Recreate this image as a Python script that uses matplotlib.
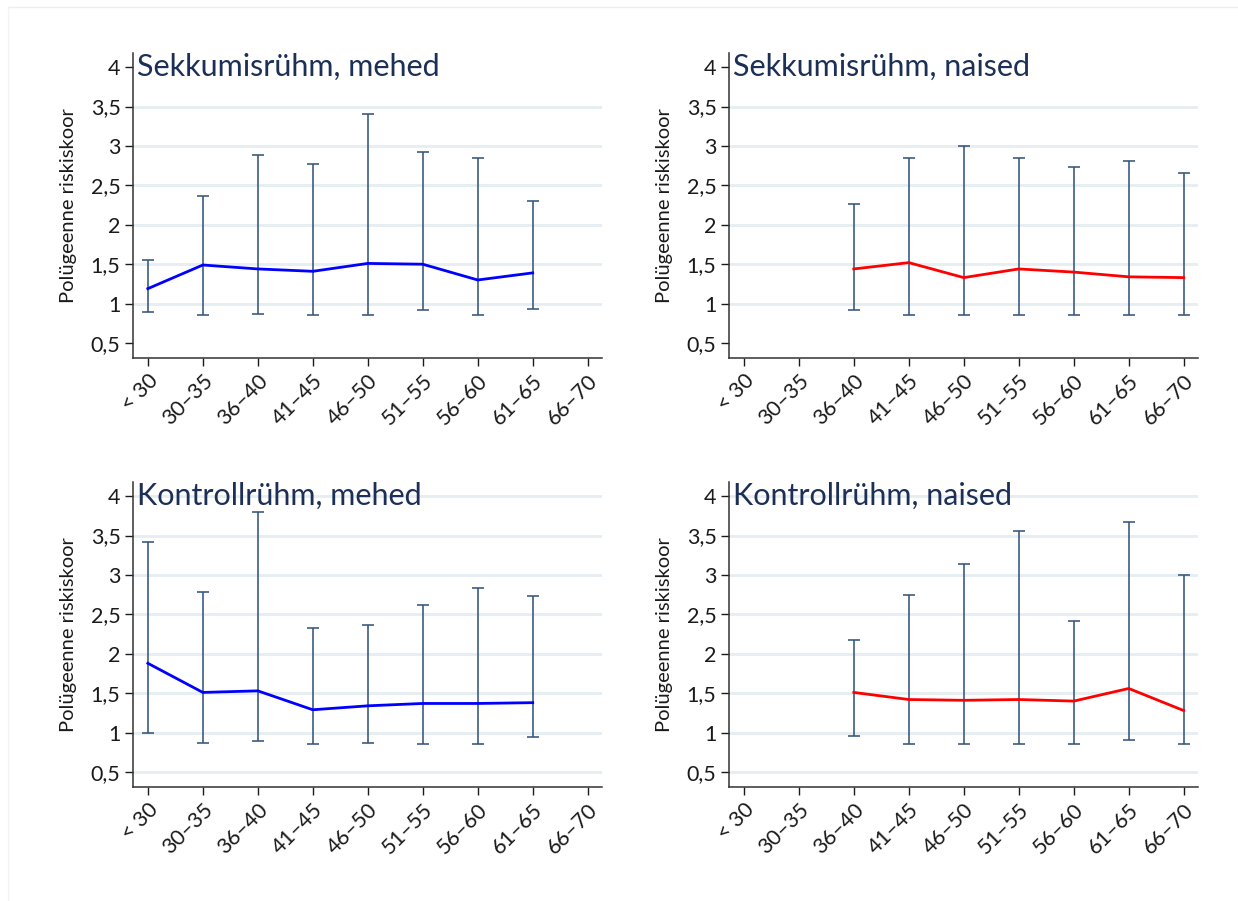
import matplotlib
matplotlib.use("Agg")
import matplotlib.pyplot as plt
from matplotlib.lines import Line2D
import numpy as np

plt.rcParams['font.family'] = ['Lato', 'DejaVu Sans']

age_groups = ["< 30", "30–35", "36–40", "41–45", "46–50", "51–55", "56–60", "61–65", "66–70"]
y_ticks = [0.5, 1, 1.5, 2, 2.5, 3, 3.5, 4]
y_tick_labels = ["0,5", "1", "1,5", "2", "2,5", "3", "3,5", "4"]

# Sekkumisrühm, mehed (age groups 0..7)
int_men_idx = [0, 1, 2, 3, 4, 5, 6, 7]
int_men_mean = [1.19, 1.49, 1.44, 1.41, 1.51, 1.50, 1.30, 1.39]
int_men_low = [0.89, 0.86, 0.87, 0.86, 0.86, 0.92, 0.85, 0.93]
int_men_high = [1.55, 2.36, 2.88, 2.77, 3.40, 2.93, 2.85, 2.30]

# Sekkumisrühm, naised (age groups 2..8)
int_women_idx = [2, 3, 4, 5, 6, 7, 8]
int_women_mean = [1.44, 1.52, 1.33, 1.44, 1.40, 1.34, 1.33]
int_women_low = [0.92, 0.86, 0.86, 0.86, 0.86, 0.86, 0.86]
int_women_high = [2.27, 2.85, 3.00, 2.85, 2.73, 2.81, 2.66]

# Kontrollrühm, mehed (age groups 0..7)
ctl_men_idx = [0, 1, 2, 3, 4, 5, 6, 7]
ctl_men_mean = [1.88, 1.51, 1.53, 1.29, 1.34, 1.37, 1.37, 1.38]
ctl_men_low = [0.99, 0.87, 0.90, 0.86, 0.87, 0.86, 0.86, 0.94]
ctl_men_high = [3.42, 2.78, 3.80, 2.33, 2.37, 2.62, 2.84, 2.73]

# Kontrollrühm, naised (age groups 2..8)
ctl_women_idx = [2, 3, 4, 5, 6, 7, 8]
ctl_women_mean = [1.51, 1.42, 1.41, 1.42, 1.40, 1.56, 1.28]
ctl_women_low = [0.96, 0.85, 0.86, 0.85, 0.85, 0.91, 0.86]
ctl_women_high = [2.17, 2.75, 3.14, 3.56, 2.42, 3.67, 3.00]

panels = [
    ("Sekkumisrühm, mehed", int_men_idx, int_men_mean, int_men_low, int_men_high, "#0000ff", False),
    ("Sekkumisrühm, naised", int_women_idx, int_women_mean, int_women_low, int_women_high, "#ff0000", False),
    ("Kontrollrühm, mehed", ctl_men_idx, ctl_men_mean, ctl_men_low, ctl_men_high, "#0000ff", True),
    ("Kontrollrühm, naised", ctl_women_idx, ctl_women_mean, ctl_women_low, ctl_women_high, "#ff0000", True),
]

W, H = 1238, 901
fig = plt.figure(figsize=(W / 100, H / 100), dpi=100)
fig.patch.set_facecolor("white")

# faint frame along the top and left edges
fig.add_artist(Line2D([8 / W, 1], [1 - 7 / H, 1 - 7 / H], color="#eeeeee", lw=1.0, transform=fig.transFigure))
fig.add_artist(Line2D([8 / W, 8 / W], [0, 1 - 7 / H], color="#f3f3f3", lw=1.0, transform=fig.transFigure))

lefts = [133, 729, 133, 729]
tops = [53, 53, 482, 482]
ax_w, ax_h = 469, 305

bar_color = "#34557c"
grid_color = "#e6eef1"
title_color = "#1c2f57"

for (title, idx, mean, low, high, lc, full_grid), lpx, tpx in zip(panels, lefts, tops):
    ax = fig.add_axes([lpx / W, 1 - (tpx + ax_h) / H, ax_w / W, ax_h / H])
    ax.set_xlim(-0.27, 8.26)
    ax.set_ylim(0.31, 4.18)

    grid_vals = y_ticks if full_grid else y_ticks[1:-1]
    for gv in grid_vals:
        ax.axhline(gv, color=grid_color, lw=2.0, zorder=0)

    x = np.array(idx, dtype=float)
    m = np.array(mean)
    err = np.vstack([m - np.array(low), np.array(high) - m])
    ax.errorbar(x, m, yerr=err, fmt="none", ecolor=bar_color, elinewidth=1.15,
                capsize=4.3, capthick=1.15, zorder=2)
    ax.plot(x, m, color=lc, lw=2.0, zorder=3)

    ax.set_xticks(range(len(age_groups)))
    ax.set_xticklabels(age_groups, rotation=45, ha="right", rotation_mode="anchor")
    ax.set_yticks(y_ticks)
    ax.set_yticklabels(y_tick_labels)
    ax.tick_params(axis="both", labelsize=15.5, colors="#1a1a1a", length=6, width=1.0, pad=3)
    ax.set_ylabel("Polügeenne riskiskoor", fontsize=14.5, color="#1a1a1a", labelpad=10)

    for side in ("top", "right"):
        ax.spines[side].set_visible(False)
    for side in ("left", "bottom"):
        ax.spines[side].set_color("#333333")
        ax.spines[side].set_linewidth(1.1)

    ax.text(0.008, 4.0, title, transform=ax.get_yaxis_transform(), fontsize=22,
            color=title_color, ha="left", va="center", zorder=4)

fig.savefig("out.png", dpi=100, facecolor="white")
